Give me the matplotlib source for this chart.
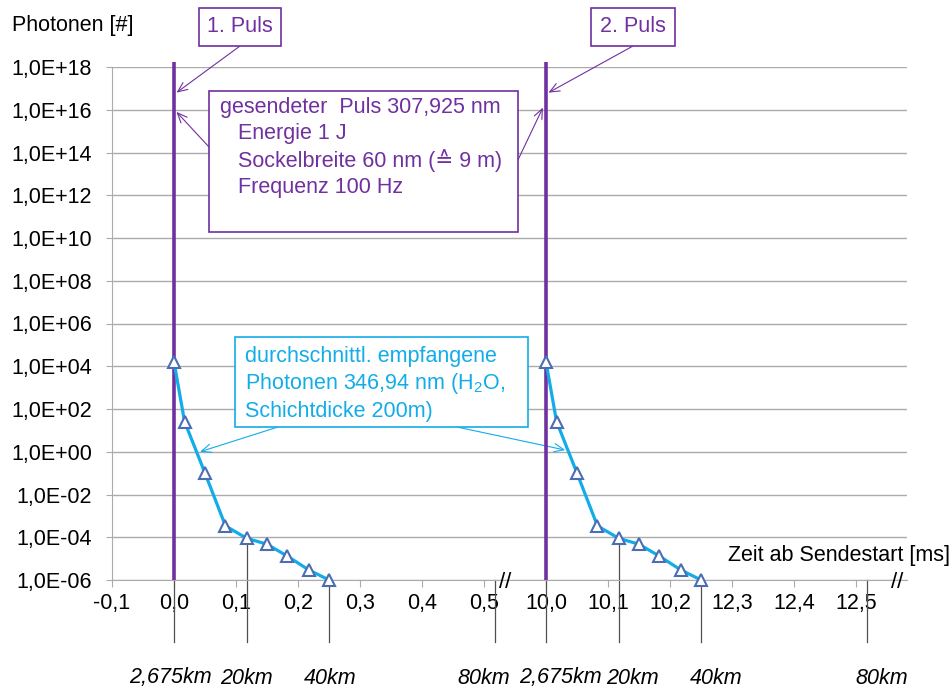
import matplotlib
matplotlib.use('Agg')
import matplotlib.pyplot as plt
import numpy as np
from matplotlib.patches import Rectangle

W, H = 953, 689
FS = 15.5

# x tick labels of the (categorical-like) time axis
X_TICKS = ['-0,1', '0,0', '0,1', '0,2', '0,3', '0,4', '0,5',
           '10,0', '10,1', '10,2', '12,3', '12,4', '12,5']
Y_EXPONENTS = [-6, -4, -2, 0, 2, 4, 6, 8, 10, 12, 14, 16, 18]

# received photons after each pulse (time in ms)
times_1 = [0.0, 0.017, 0.05, 0.083, 0.117, 0.15, 0.183, 0.217, 0.25]
photons_1 = [1.6e4, 26, 0.1, 3.4e-4, 9e-5, 4.7e-5, 1.3e-5, 3e-6, 1e-6]
times_2 = [10.0, 10.017, 10.05, 10.083, 10.117, 10.15, 10.183, 10.217, 10.25]
photons_2 = [1.6e4, 26, 0.1, 3.4e-4, 9e-5, 4.7e-5, 1.3e-5, 3e-6, 1e-6]

pulse_times = [0.0, 10.0]

km_labels = ['2,675km', '20km', '40km', '80km']
km_times_1 = [0.0, 0.117, 0.25, 0.518]
km_times_2 = [10.0, 10.117, 10.25, 10.518]
km_dx_1 = [-4, 0, 1, -11]
km_dx_2 = [14, 14, 15, 15]

PURPLE = '#7030A0'
CYAN = '#12ADE8'
MARKER_EDGE = '#4A6DB3'
GRID = '#ABABAB'

plt.rcParams['font.family'] = ['Liberation Sans', 'DejaVu Sans']
plt.rcParams['mathtext.fontset'] = 'custom'
plt.rcParams['mathtext.rm'] = 'Liberation Sans'
plt.rcParams['mathtext.default'] = 'rm'


def to_axis(t):
    t = np.asarray(t, dtype=float)
    return np.where(t < 5, 1 + t * 10, 7 + (t - 10) * 10)


def fig_xy(x, y):
    return x / W, 1 - y / H


fig = plt.figure(figsize=(W / 100, H / 100), dpi=100)
ax_left, ax_right, ax_top, ax_bottom = 112, 907, 67, 580
ax = fig.add_axes([ax_left / W, 1 - ax_bottom / H,
                   (ax_right - ax_left) / W, (ax_bottom - ax_top) / H])

ax.set_yscale('log')
ax.set_ylim(1e-6, 1e18)
ax.set_xlim(0, (ax_right - ax_left) / 62)
ax.minorticks_off()

ax.set_yticks([10.0 ** e for e in Y_EXPONENTS])
ax.set_yticklabels(['1,0E%+03d' % e for e in Y_EXPONENTS], fontsize=FS)
ax.set_xticks(range(len(X_TICKS)))
ax.set_xticklabels(X_TICKS, fontsize=FS)
ax.tick_params(axis='y', length=4.5, pad=10, color=GRID)
ax.tick_params(axis='x', length=5, pad=4, color=GRID)

ax.grid(axis='y', color=GRID, lw=1)
ax.set_axisbelow(True)
for s in ['top', 'right']:
    ax.spines[s].set_visible(False)
for s in ['left', 'bottom']:
    ax.spines[s].set_color(GRID)

dec_px = (ax_bottom - ax_top) / 24
y_top_pulse = 10 ** (18 + 5 / dec_px)
y_below = 10 ** (-6 - 62 / dec_px)

# distance marker lines below the axis
for times, kts, dxs, ph in [(times_1, km_times_1, km_dx_1, photons_1),
                            (times_2, km_times_2, km_dx_2, photons_2)]:
    for kt, lab, dx in zip(kts, km_labels, dxs):
        top = 1e-6
        for t, p in zip(times, ph):
            if abs(t - kt) < 1e-6 and abs(t - times[0]) > 1e-6:
                top = p
        xa = float(to_axis(kt))
        ax.plot([xa, xa], [top, y_below], color='#505050', lw=0.9,
                clip_on=False, zorder=1)
        xpix = ax_left + xa * 62 + dx
        fig.text(*fig_xy(xpix, 678), lab, fontsize=FS, style='italic',
                 ha='center', va='center')

# pulse lines
for pt in pulse_times:
    xa = float(to_axis(pt))
    ax.plot([xa, xa], [1e-6, y_top_pulse], color=PURPLE, lw=2.6,
            clip_on=False, zorder=4, solid_capstyle='butt')

# received photons
for times, ph in [(times_1, photons_1), (times_2, photons_2)]:
    ax.plot(to_axis(times), ph, color=CYAN, lw=2.3, zorder=5,
            marker='^', ms=9, mfc='white', mec=MARKER_EDGE, mew=1.5,
            clip_on=False)

# axis titles
fig.text(*fig_xy(12, 25), 'Photonen [#]', fontsize=FS, ha='left', va='center')
fig.text(*fig_xy(950, 555), 'Zeit ab Sendestart [ms]', fontsize=FS,
         ha='right', va='center')
for bx in [505, 897]:
    fig.text(*fig_xy(bx, 582), '//', fontsize=16, ha='center', va='center')

arrow_p = dict(arrowstyle='->,head_length=0.7,head_width=0.3', color=PURPLE,
               lw=0.8, shrinkA=0, shrinkB=0)
arrow_c = dict(arrowstyle='->,head_length=0.7,head_width=0.3', color=CYAN,
               lw=0.8, shrinkA=0, shrinkB=0)

# pulse labels
for label, cx, tx in [('1. Puls', 240, 0.0), ('2. Puls', 633, 10.0)]:
    fig.text(*fig_xy(cx, 27), label, fontsize=FS, color=PURPLE,
             ha='center', va='center',
             bbox=dict(boxstyle='square,pad=0.4', fc='white', ec=PURPLE, lw=1.2))
    ax.annotate('', xy=(float(to_axis(tx)) + 0.04, 10 ** 16.8), xycoords='data',
                xytext=fig_xy(cx, 46), textcoords='figure fraction',
                arrowprops=arrow_p)

# sent pulse info box
x0, y0, x1, y1 = 209, 91, 518, 232
fig.patches.append(Rectangle(fig_xy(x0, y1), (x1 - x0) / W, (y1 - y0) / H,
                             transform=fig.transFigure, fc='white', ec=PURPLE,
                             lw=1.2, zorder=6))
info = [('gesendeter  Puls 307,925 nm', 220, 107),
        ('Energie 1 J', 238, 134),
        ('Sockelbreite 60 nm (≙ 9 m)', 238, 161),
        ('Frequenz 100 Hz', 238, 188)]
for txt, tx, ty in info:
    fig.text(*fig_xy(tx, ty), txt, fontsize=FS, color=PURPLE, ha='left',
             va='center', zorder=7)
ax.annotate('', xy=(float(to_axis(0.0)) + 0.04, 10 ** 15.9), xycoords='data',
            xytext=fig_xy(209, 147), textcoords='figure fraction',
            arrowprops=arrow_p)
ax.annotate('', xy=(float(to_axis(10.0)) - 0.05, 10 ** 16.1), xycoords='data',
            xytext=fig_xy(517, 162), textcoords='figure fraction',
            arrowprops=arrow_p)

# received photons box
x0, y0, x1, y1 = 235, 337, 528, 427
fig.patches.append(Rectangle(fig_xy(x0, y1), (x1 - x0) / W, (y1 - y0) / H,
                             transform=fig.transFigure, fc='white', ec=CYAN,
                             lw=1.2, zorder=6))
recv = [('durchschnittl. empfangene', 356),
        ('Photonen 346,94 nm (H$_2$O,', 384),
        ('Schichtdicke 200m)', 411)]
for txt, ty in recv:
    fig.text(*fig_xy(245, ty), txt, fontsize=FS, color=CYAN, ha='left',
             va='center', zorder=7)
ax.annotate('', xy=(float(to_axis(0.042)), 1.0), xycoords='data',
            xytext=fig_xy(278, 427), textcoords='figure fraction',
            arrowprops=arrow_c)
ax.annotate('', xy=(float(to_axis(10.031)), 1.2), xycoords='data',
            xytext=fig_xy(457, 427), textcoords='figure fraction',
            arrowprops=arrow_c)

fig.savefig('out.png', dpi=100, facecolor='white')
